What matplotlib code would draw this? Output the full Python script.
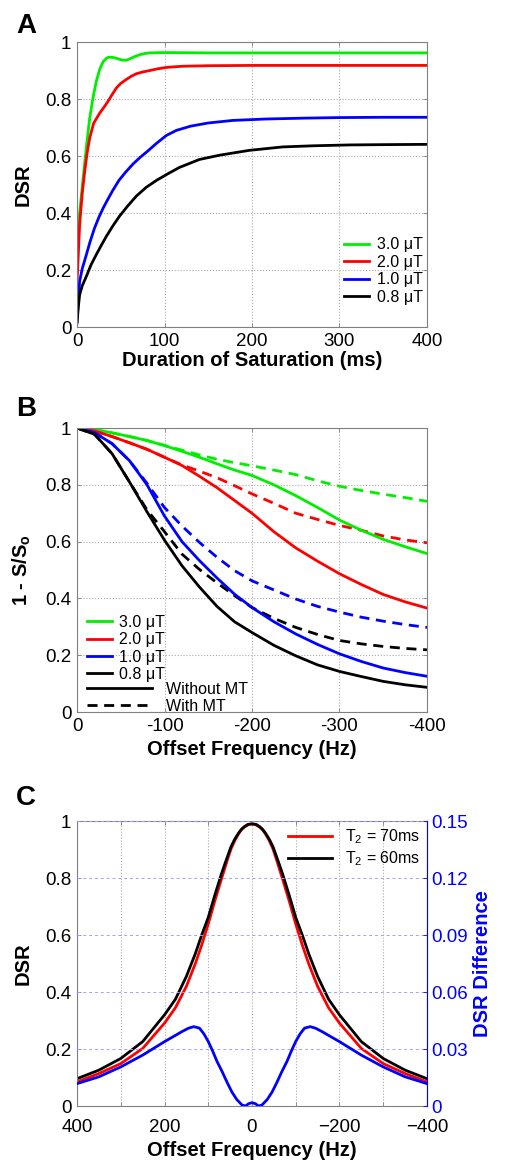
import matplotlib
matplotlib.use('Agg')
import matplotlib.pyplot as plt
from matplotlib.lines import Line2D
from matplotlib.ticker import FixedLocator, FixedFormatter

plt.rcParams['font.family'] = ['Liberation Sans', 'DejaVu Sans']
plt.rcParams['mathtext.default'] = 'regular'

# ---- panel A : DSR vs saturation duration ----
b1_labels = ['3.0 \u03bcT', '2.0 \u03bcT', '1.0 \u03bcT', '0.8 \u03bcT']
colors = ['#00ee00', '#ff0000', '#0000ff', '#000000']

tA_30 = [0, 3, 7, 11, 14.5, 18, 22, 26, 30, 34, 37, 41, 45, 49, 53, 57, 61, 66, 72, 78, 83, 95, 110, 150, 200, 300, 400]
dA_30 = [0.283, 0.40, 0.523, 0.64, 0.733, 0.80, 0.862, 0.905, 0.932, 0.944, 0.947, 0.946, 0.943, 0.939, 0.936, 0.937, 0.942, 0.949, 0.956, 0.960, 0.962, 0.963, 0.963, 0.962, 0.962, 0.962, 0.962]
tA_20 = [0, 3, 6, 8.8, 11.5, 14.5, 19, 26, 31, 35.4, 40, 45, 50, 56, 62, 68, 75, 83, 92, 102, 120, 150, 200, 300, 400]
dA_20 = [0.154, 0.359, 0.47, 0.546, 0.61, 0.663, 0.715, 0.751, 0.772, 0.792, 0.815, 0.839, 0.855, 0.868, 0.88, 0.889, 0.895, 0.900, 0.906, 0.911, 0.915, 0.917, 0.918, 0.918, 0.918]
tA_10 = [0, 1.5, 3, 6, 10.7, 15, 20, 25, 30, 35, 41, 48, 56, 64, 72, 81, 91, 102, 113.5, 130, 150, 178, 216, 260, 300, 350, 400]
dA_10 = [0.02, 0.10, 0.16, 0.205, 0.254, 0.30, 0.347, 0.385, 0.418, 0.447, 0.48, 0.515, 0.545, 0.572, 0.595, 0.618, 0.645, 0.672, 0.69, 0.705, 0.716, 0.725, 0.73, 0.733, 0.735, 0.736, 0.736]
tA_08 = [0, 1.5, 3, 6, 10.7, 16, 22, 28, 33.5, 41, 48.8, 58, 68, 79, 91, 104, 117, 140, 163, 197, 235, 270, 312, 350, 400]
dA_08 = [0.014, 0.07, 0.113, 0.145, 0.178, 0.218, 0.254, 0.288, 0.318, 0.355, 0.39, 0.425, 0.46, 0.49, 0.515, 0.538, 0.56, 0.588, 0.603, 0.62, 0.632, 0.636, 0.639, 0.64, 0.641]
tA_ticks = [0, 100, 200, 300, 400]

# ---- panel B : 1 - S/So vs offset frequency ----
fB = [0, -20, -40, -60, -80, -100, -120, -140, -160, -180, -200, -225, -250, -275, -300, -325, -350, -375, -400]
sB_30 = [1.0, 0.995, 0.983, 0.97, 0.956, 0.938, 0.918, 0.897, 0.874, 0.852, 0.833, 0.80, 0.762, 0.72, 0.676, 0.64, 0.608, 0.582, 0.558]
mB_30 = [1.0, 0.995, 0.983, 0.97, 0.956, 0.939, 0.922, 0.905, 0.89, 0.878, 0.867, 0.852, 0.836, 0.814, 0.795, 0.78, 0.767, 0.755, 0.742]
sB_20 = [1.0, 0.99, 0.97, 0.948, 0.925, 0.897, 0.868, 0.83, 0.79, 0.745, 0.700, 0.635, 0.578, 0.531, 0.487, 0.449, 0.414, 0.388, 0.366]
mB_20 = [1.0, 0.99, 0.97, 0.948, 0.925, 0.897, 0.87, 0.848, 0.825, 0.797, 0.768, 0.735, 0.70, 0.678, 0.657, 0.64, 0.62, 0.606, 0.596]
sB_10 = [1.0, 0.984, 0.945, 0.885, 0.80, 0.69, 0.60, 0.533, 0.472, 0.415, 0.368, 0.318, 0.275, 0.238, 0.205, 0.178, 0.155, 0.139, 0.126]
mB_10 = [1.0, 0.984, 0.945, 0.885, 0.805, 0.72, 0.655, 0.597, 0.545, 0.498, 0.462, 0.43, 0.398, 0.372, 0.352, 0.334, 0.32, 0.308, 0.298]
sB_08 = [1.0, 0.978, 0.91, 0.81, 0.705, 0.605, 0.515, 0.44, 0.372, 0.318, 0.28, 0.235, 0.198, 0.166, 0.143, 0.125, 0.108, 0.096, 0.087]
mB_08 = [1.0, 0.978, 0.91, 0.81, 0.712, 0.635, 0.556, 0.502, 0.455, 0.41, 0.368, 0.33, 0.298, 0.273, 0.252, 0.24, 0.231, 0.224, 0.219]
fB_ticks = [0, -100, -200, -300, -400]
fB_ticklabels = ['0', '-100', '-200', '-300', '-400']

# ---- panel C : DSR vs offset for two T2 ----
fC = [400, 350, 300, 250, 200, 175, 150, 130, 115, 100, 85, 70, 62, 55, 48, 40, 32, 25, 18, 10, 5, 0,
      -5, -10, -18, -25, -32, -40, -48, -55, -62, -70, -85, -100, -115, -130, -150, -175, -200, -250, -300, -350, -400]
dC_60 = [0.096, 0.126, 0.167, 0.226, 0.32, 0.375, 0.455, 0.533, 0.60, 0.662, 0.74, 0.814, 0.85, 0.88, 0.91, 0.935, 0.955, 0.97, 0.98, 0.988, 0.9895, 0.99,
         0.9895, 0.988, 0.98, 0.97, 0.955, 0.935, 0.91, 0.88, 0.85, 0.814, 0.74, 0.662, 0.60, 0.533, 0.455, 0.375, 0.32, 0.226, 0.167, 0.126, 0.096]
dC_70 = [0.085, 0.114, 0.149, 0.202, 0.291, 0.345, 0.42, 0.498, 0.565, 0.639, 0.72, 0.796, 0.835, 0.87, 0.902, 0.93, 0.952, 0.968, 0.978, 0.986, 0.989, 0.99,
         0.989, 0.986, 0.978, 0.968, 0.952, 0.93, 0.902, 0.87, 0.835, 0.796, 0.72, 0.639, 0.565, 0.498, 0.42, 0.345, 0.291, 0.202, 0.149, 0.114, 0.085]
fC_diff = [400, 350, 300, 250, 200, 160, 145, 133, 120, 110, 100, 90, 80, 68, 57, 46, 35, 23, 15, 8, 0,
           -8, -15, -23, -35, -46, -57, -68, -80, -90, -100, -110, -120, -133, -145, -160, -200, -250, -300, -350, -400]
dC_diff = [0.0118, 0.0154, 0.0206, 0.0268, 0.0339, 0.0392, 0.041, 0.0418, 0.041, 0.038, 0.034, 0.029, 0.0235, 0.018, 0.0125, 0.0074, 0.0035, 0.0006, 0.0, 0.0012, 0.0018,
           0.0012, 0.0, 0.0006, 0.0035, 0.0074, 0.0125, 0.018, 0.0235, 0.029, 0.034, 0.038, 0.041, 0.0418, 0.041, 0.0392, 0.0339, 0.0268, 0.0206, 0.0154, 0.0118]
fC_ticks = [400, 200, 0, -200, -400]
fC_minor = [300, 100, -100, -300]
fC_ticklabels = ['400', '200', '0', '\u2212200', '\u2212400']
t2_labels = ['T$_2$ = 70ms', 'T$_2$ = 60ms']

y_ticks = [0, 0.2, 0.4, 0.6, 0.8, 1.0]
y_ticklabels = ['0', '0.2', '0.4', '0.6', '0.8', '1']
y2_ticks = [0, 0.03, 0.06, 0.09, 0.12, 0.15]
y2_ticklabels = ['0', '0.03', '0.06', '0.09', '0.12', '0.15']

LW = 2.0
TICK_FS = 13.5
LAB_FS = 14.5
LEG_FS = 11.5
GRAY = '#808080'


def style_axes(ax):
    for s in ax.spines.values():
        s.set_color(GRAY)
        s.set_linewidth(0.8)
    ax.tick_params(direction='in', length=3, width=0.6, color=GRAY, labelsize=TICK_FS,
                   top=True, right=True, pad=4)
    ax.grid(True, linestyle=':', color='#aaaaaa', linewidth=0.8)


def set_y(ax):
    ax.set_ylim(0, 1)
    ax.yaxis.set_major_locator(FixedLocator(y_ticks))
    ax.yaxis.set_major_formatter(FixedFormatter(y_ticklabels))


fig = plt.figure(figsize=(5.05, 11.65), dpi=100)
L, W = 0.1525, 0.693

# Panel A
axA = fig.add_axes([L, 0.7193, W, 0.2446])
style_axes(axA)
for t, d, c, lab in zip([tA_30, tA_20, tA_10, tA_08], [dA_30, dA_20, dA_10, dA_08], colors, b1_labels):
    axA.plot(t, d, color=c, lw=LW, label=lab)
axA.set_xlim(0, 400)
axA.xaxis.set_major_locator(FixedLocator(tA_ticks))
set_y(axA)
axA.set_xlabel('Duration of Saturation (ms)', fontsize=LAB_FS, fontweight='bold', labelpad=1)
axA.set_ylabel('DSR', fontsize=LAB_FS, fontweight='bold', labelpad=9)
axA.legend(loc='lower right', bbox_to_anchor=(1.015, 0.045), frameon=False, fontsize=LEG_FS,
           handlelength=1.55, handletextpad=0.5, labelspacing=0.15, borderpad=0.1)

# Panel B
axB = fig.add_axes([L, 0.3888, W, 0.2438])
style_axes(axB)
for m, c in zip([mB_30, mB_20, mB_10, mB_08], colors):
    axB.plot(fB, m, color=c, lw=LW, dashes=(3.6, 2.4))
for s, c in zip([sB_30, sB_20, sB_10, sB_08], colors):
    axB.plot(fB, s, color=c, lw=LW)
axB.set_xlim(0, -400)
axB.xaxis.set_major_locator(FixedLocator(fB_ticks))
axB.xaxis.set_major_formatter(FixedFormatter(fB_ticklabels))
set_y(axB)
axB.set_xlabel('Offset Frequency (Hz)', fontsize=LAB_FS, fontweight='bold', labelpad=4)
axB.set_ylabel('1 - S/S$_o$', fontsize=LAB_FS, fontweight='bold', labelpad=9)
h_col = [Line2D([], [], color=c, lw=LW) for c in colors]
leg1 = axB.legend(h_col, b1_labels, loc='lower left', bbox_to_anchor=(0.0, 0.072), frameon=False,
                  fontsize=LEG_FS, handlelength=1.6, handletextpad=0.45, labelspacing=0.15, borderpad=0.1)
axB.add_artist(leg1)
h_sty = [Line2D([], [], color='k', lw=LW), Line2D([], [], color='k', lw=LW, dashes=(3.6, 2.4))]
axB.legend(h_sty, ['Without MT', 'With MT'], loc='lower left', bbox_to_anchor=(0.0, -0.04), frameon=False,
           fontsize=LEG_FS, handlelength=4.1, handletextpad=0.85, labelspacing=0.12, borderpad=0.1)

# Panel C
axC = fig.add_axes([L, 0.0506, W, 0.2446])
for s in axC.spines.values():
    s.set_color(GRAY)
    s.set_linewidth(0.8)
axC.tick_params(which='both', direction='in', length=3, width=0.6, color=GRAY, labelsize=TICK_FS, top=True, pad=4)
axC.tick_params(axis='x', pad=9)
axC.plot(fC, dC_70, color='#ff0000', lw=LW, label=t2_labels[0])
axC.plot(fC, dC_60, color='#000000', lw=LW, label=t2_labels[1])
axC.set_xlim(400, -400)
axC.xaxis.set_major_locator(FixedLocator(fC_ticks))
axC.xaxis.set_major_formatter(FixedFormatter(fC_ticklabels))
axC.xaxis.set_minor_locator(FixedLocator(fC_minor))
set_y(axC)
axC.grid(True, axis='x', which='both', linestyle=':', color='#aaaaaa', linewidth=0.8)
axC.set_xlabel('Offset Frequency (Hz)', fontsize=LAB_FS, fontweight='bold', labelpad=4)
axC.set_ylabel('DSR', fontsize=LAB_FS, fontweight='bold', labelpad=9)
axC.legend(loc='upper right', frameon=False, fontsize=LEG_FS, handlelength=2.75, handletextpad=0.85,
           labelspacing=0.2, borderpad=0.1, borderaxespad=0.3)

axC2 = axC.twinx()
axC2.plot(fC_diff, dC_diff, color='#0000ff', lw=LW)
axC2.set_ylim(0, 0.15)
axC2.yaxis.set_major_locator(FixedLocator(y2_ticks))
axC2.yaxis.set_major_formatter(FixedFormatter(y2_ticklabels))
axC2.tick_params(direction='in', length=3, width=0.6, color='#0000ff', labelcolor='#0000ff',
                 labelsize=TICK_FS, pad=3)
axC2.spines['right'].set_color('#0000ff')
for k in ['left', 'top', 'bottom']:
    axC2.spines[k].set_visible(False)
axC2.grid(True, axis='y', linestyle=(0, (3, 3)), color='#a0a0ff', linewidth=0.7)
axC2.set_ylabel('DSR Difference', fontsize=LAB_FS, fontweight='bold', color='#0000ff', labelpad=4)

# panel letters
for y, t in [(0.972, 'A'), (0.643, 'B'), (0.309, 'C')]:
    fig.text(0.032, y, t, fontsize=20, fontweight='bold', va='baseline')

fig.savefig('out.png', dpi=100)
